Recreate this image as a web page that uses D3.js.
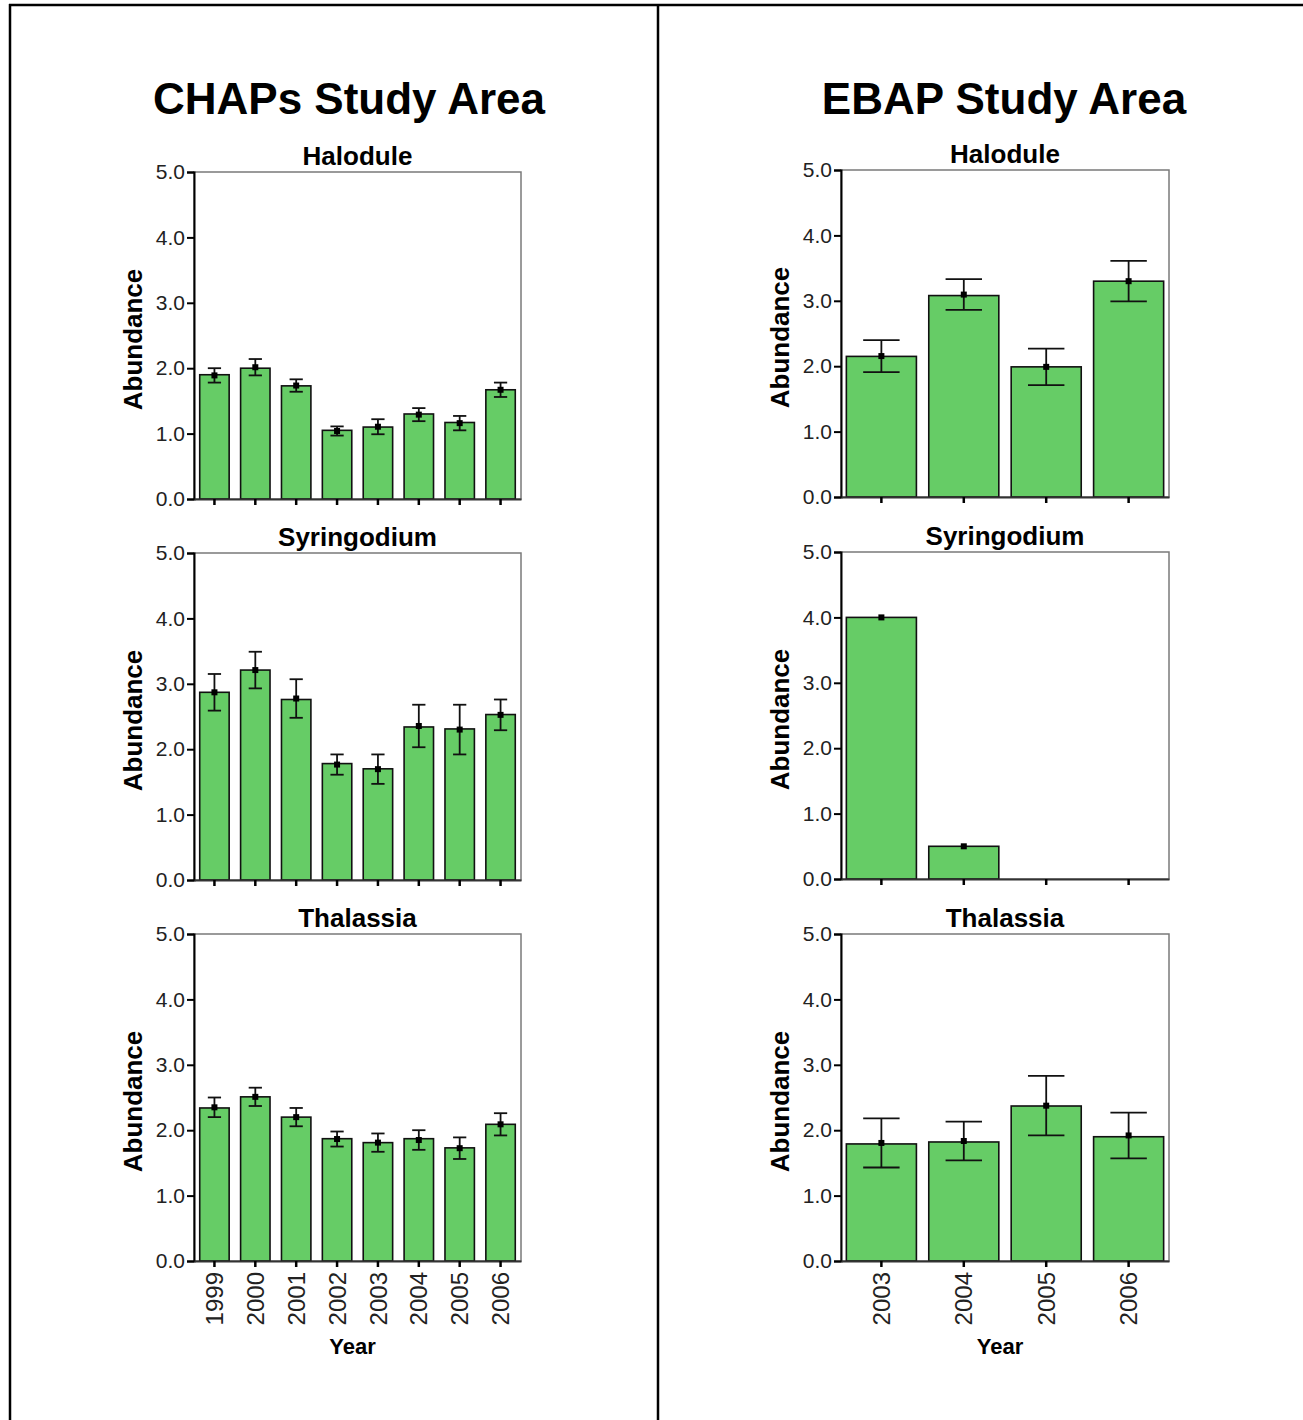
<!DOCTYPE html>
<html>
<head>
<meta charset="utf-8">
<script src="https://cdn.jsdelivr.net/npm/d3@7"></script>
<style>
  body { margin: 0; background: #fff; }
  svg { display: block; }
  text { font-family: "Liberation Sans", Arial, sans-serif; }
</style>
</head>
<body>
<svg id="chart"></svg>
<script>
// Categories
const chapsYears = ['1999', '2000', '2001', '2002', '2003', '2004', '2005', '2006'];
const ebapYears = ['2003', '2004', '2005', '2006'];
const speciesNames = ['Halodule', 'Syringodium', 'Thalassia'];
const yTicks = [0, 1, 2, 3, 4, 5];

// CHAPs study area: mean abundance with error bar low / high
const chapsHaloduleMean = [1.90, 2.00, 1.73, 1.05, 1.10, 1.30, 1.17, 1.67];
const chapsHaloduleLow  = [1.78, 1.89, 1.64, 0.97, 0.99, 1.19, 1.05, 1.56];
const chapsHaloduleHigh = [2.00, 2.14, 1.83, 1.11, 1.22, 1.39, 1.27, 1.78];

const chapsSyringodiumMean = [2.87, 3.21, 2.76, 1.78, 1.70, 2.34, 2.31, 2.53];
const chapsSyringodiumLow  = [2.59, 2.93, 2.48, 1.61, 1.47, 2.03, 1.92, 2.29];
const chapsSyringodiumHigh = [3.15, 3.49, 3.07, 1.92, 1.92, 2.68, 2.68, 2.76];

const chapsThalassiaMean = [2.34, 2.51, 2.20, 1.87, 1.81, 1.87, 1.73, 2.09];
const chapsThalassiaLow  = [2.20, 2.37, 2.06, 1.75, 1.67, 1.70, 1.56, 1.92];
const chapsThalassiaHigh = [2.50, 2.65, 2.34, 1.98, 1.95, 2.00, 1.89, 2.26];

// EBAP study area
const ebapHaloduleMean = [2.15, 3.08, 1.99, 3.30];
const ebapHaloduleLow  = [1.91, 2.86, 1.71, 2.99];
const ebapHaloduleHigh = [2.40, 3.33, 2.27, 3.61];

const ebapSyringodiumMean = [4.00, 0.50, 0, 0];
const ebapSyringodiumLow  = [3.99, 0.49, 0, 0];
const ebapSyringodiumHigh = [4.01, 0.51, 0, 0];

const ebapThalassiaMean = [1.79, 1.82, 2.37, 1.90];
const ebapThalassiaLow  = [1.43, 1.54, 1.92, 1.57];
const ebapThalassiaHigh = [2.18, 2.13, 2.83, 2.27];

const W = 1303, H = 1420;
const svg = d3.select('#chart').attr('width', W).attr('height', H);

// page frame
svg.append('line').attr('x1', 9).attr('x2', W).attr('y1', 5).attr('y2', 5)
   .attr('stroke', '#000').attr('stroke-width', 2.5);
svg.append('line').attr('x1', 10).attr('x2', 10).attr('y1', 4).attr('y2', H)
   .attr('stroke', '#000').attr('stroke-width', 2.5);
svg.append('line').attr('x1', 658).attr('x2', 658).attr('y1', 4).attr('y2', H)
   .attr('stroke', '#000').attr('stroke-width', 2.5);

const plotH = 327;

const panels = [
  {
    title: 'CHAPs Study Area', titleX: 349,
    years: chapsYears, x0: 194, x1: 521, tops: [172, 553, 934],
    padInner: 0.28, padOuter: 0.14, capFrac: 0.45,
    series: [
      [chapsHaloduleMean, chapsHaloduleLow, chapsHaloduleHigh],
      [chapsSyringodiumMean, chapsSyringodiumLow, chapsSyringodiumHigh],
      [chapsThalassiaMean, chapsThalassiaLow, chapsThalassiaHigh]
    ]
  },
  {
    title: 'EBAP Study Area', titleX: 1004,
    years: ebapYears, x0: 841, x1: 1169, tops: [170, 552, 934],
    padInner: 0.15, padOuter: 0.065, capFrac: 0.52,
    series: [
      [ebapHaloduleMean, ebapHaloduleLow, ebapHaloduleHigh],
      [ebapSyringodiumMean, ebapSyringodiumLow, ebapSyringodiumHigh],
      [ebapThalassiaMean, ebapThalassiaLow, ebapThalassiaHigh]
    ]
  }
];

panels.forEach(p => {
  svg.append('text')
     .attr('x', p.titleX).attr('y', 114)
     .attr('text-anchor', 'middle')
     .attr('font-size', 44).attr('font-weight', 'bold')
     .text(p.title);

  const x = d3.scaleBand()
      .domain(p.years)
      .range([p.x0, p.x1])
      .paddingInner(p.padInner)
      .paddingOuter(p.padOuter);

  p.series.forEach((s, i) => {
    const top = p.tops[i];
    const bottom = top + plotH;
    const y = d3.scaleLinear().domain([0, 5]).range([bottom, top]);
    const [mean, low, high] = s;
    const rows = p.years.map((yr, j) => ({ year: yr, mean: mean[j], low: low[j], high: high[j] }));
    const g = svg.append('g');
    const cx = (p.x0 + p.x1) / 2;

    // species title
    g.append('text')
     .attr('x', cx).attr('y', top - 7)
     .attr('text-anchor', 'middle')
     .attr('font-size', 26).attr('font-weight', 'bold')
     .text(speciesNames[i]);

    // frame (top / right)
    g.append('rect')
     .attr('x', p.x0).attr('y', top)
     .attr('width', p.x1 - p.x0).attr('height', plotH)
     .attr('fill', '#fff').attr('stroke', '#7a7a7a').attr('stroke-width', 1.5);

    // bars
    const bars = rows.filter(d => d.mean > 0);
    g.selectAll('.bar').data(bars).enter().append('rect')
     .attr('class', 'bar')
     .attr('x', d => x(d.year))
     .attr('y', d => y(d.mean))
     .attr('width', x.bandwidth())
     .attr('height', d => y(0) - y(d.mean))
     .attr('fill', '#66cc66')
     .attr('stroke', '#111').attr('stroke-width', 1.6);

    // error bars
    const capW = x.bandwidth() * p.capFrac;
    const errs = bars.filter(d => d.high - d.low > 0.05);
    const eg = g.selectAll('.err').data(errs).enter().append('g')
     .attr('class', 'err')
     .attr('stroke', '#111').attr('stroke-width', 1.8);
    eg.append('line')
      .attr('x1', d => x(d.year) + x.bandwidth() / 2)
      .attr('x2', d => x(d.year) + x.bandwidth() / 2)
      .attr('y1', d => y(d.low)).attr('y2', d => y(d.high));
    eg.append('line')
      .attr('x1', d => x(d.year) + x.bandwidth() / 2 - capW / 2)
      .attr('x2', d => x(d.year) + x.bandwidth() / 2 + capW / 2)
      .attr('y1', d => y(d.high)).attr('y2', d => y(d.high));
    eg.append('line')
      .attr('x1', d => x(d.year) + x.bandwidth() / 2 - capW / 2)
      .attr('x2', d => x(d.year) + x.bandwidth() / 2 + capW / 2)
      .attr('y1', d => y(d.low)).attr('y2', d => y(d.low));

    // mean points
    g.selectAll('.pt').data(bars).enter().append('rect')
     .attr('class', 'pt')
     .attr('x', d => x(d.year) + x.bandwidth() / 2 - 3)
     .attr('y', d => y((d.low + d.high) / 2) - 3)
     .attr('width', 6).attr('height', 6)
     .attr('fill', '#000');

    // y axis
    const ya = g.append('g')
      .attr('transform', `translate(${p.x0},0)`)
      .call(d3.axisLeft(y).tickValues(yTicks).tickFormat(d3.format('.1f')).tickSize(7).tickPadding(2));
    ya.select('.domain').attr('stroke', '#000').attr('stroke-width', 2);
    ya.selectAll('.tick line').attr('stroke', '#000').attr('stroke-width', 2);
    ya.selectAll('.tick text')
      .attr('font-size', 21).attr('fill', '#222')
      .style('font-family', '"Liberation Sans", Arial, sans-serif');

    // x axis
    const xa = g.append('g')
      .attr('transform', `translate(0,${bottom})`)
      .call(d3.axisBottom(x).tickSize(6).tickSizeOuter(0));
    xa.select('.domain').attr('stroke', '#333').attr('stroke-width', 1.8);
    xa.selectAll('.tick line').attr('stroke', '#000').attr('stroke-width', 2.5);
    if (i === 2) {
      xa.selectAll('.tick text')
        .attr('transform', 'rotate(-90)')
        .attr('x', -11).attr('y', 0).attr('dy', '0.36em')
        .attr('text-anchor', 'end')
        .attr('font-size', 24).attr('fill', '#222')
        .style('font-family', '"Liberation Sans", Arial, sans-serif');
      g.append('text')
       .attr('x', cx - 5).attr('y', bottom + 93)
       .attr('text-anchor', 'middle')
       .attr('font-size', 22).attr('font-weight', 'bold')
       .text('Year');
    } else {
      xa.selectAll('.tick text').remove();
    }

    // y label
    g.append('text')
     .attr('transform', `translate(${p.x0 - 52},${top + plotH / 2 + 4}) rotate(-90)`)
     .attr('text-anchor', 'middle')
     .attr('font-size', 26).attr('font-weight', 'bold')
     .text('Abundance');
  });
});
</script>
</body>
</html>
